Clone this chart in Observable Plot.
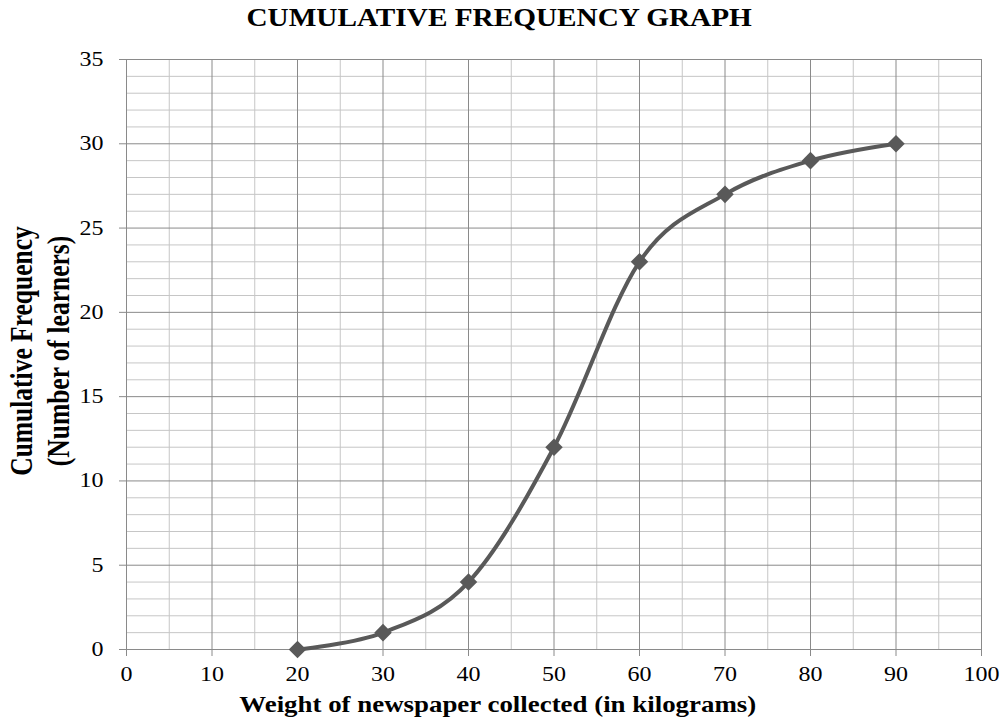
<!DOCTYPE html>
<html><head><meta charset="utf-8">
<script src="https://cdn.jsdelivr.net/npm/d3@7"></script>
<script src="https://cdn.jsdelivr.net/npm/@observablehq/plot@0.6"></script>
<style>
body{margin:0;background:#fff;}
#wrap{position:relative;width:1005px;height:724px;overflow:hidden;font-family:"Liberation Serif","Times New Roman",serif;color:#000;background:#fff}
#title{height:40px;line-height:35px;text-align:center;font-weight:bold;font-size:26px;white-space:nowrap}
#title span{display:inline-block;transform:translateX(-3.5px) scaleX(1.125);}
#xlabel{position:absolute;left:0;width:1005px;top:691px;text-align:center;font-weight:bold;font-size:24px;line-height:normal;white-space:nowrap}
#xlabel span{display:inline-block;transform:translateX(-5px) scaleX(1.12);}
#ylabel{position:absolute;left:40.8px;top:351px;transform:translate(-50%,-50%) rotate(-90deg) scaleY(1.22);font-weight:bold;font-size:25.5px;line-height:30px;text-align:center;white-space:nowrap}
svg{display:block}
svg text{font-family:"Liberation Serif","Times New Roman",serif !important}
</style>
</head><body>
<div id="wrap">
  <div id="title"><span>CUMULATIVE FREQUENCY GRAPH</span></div>
  <div id="chart"></div>
  <div id="xlabel"><span>Weight of newspaper collected (in kilograms)</span></div>
  <div id="ylabel">Cumulative Frequency<br>(Number of learners)</div>
</div>
<script>
const weight = [20, 30, 40, 50, 60, 70, 80, 90];
const cumFreq = [0, 1, 4, 12, 23, 27, 29, 30];
const xTicks = [0, 10, 20, 30, 40, 50, 60, 70, 80, 90, 100];
const xMinor = [5, 15, 25, 35, 45, 55, 65, 75, 85, 95];
const yTicks = [0, 5, 10, 15, 20, 25, 30, 35];
const yMinor = [1,2,3,4,6,7,8,9,11,12,13,14,16,17,18,19,21,22,23,24,26,27,28,29,31,32,33,34];

const data = weight.map((w, i) => ({w, f: cumFreq[i]}));
const serif = "'Liberation Serif', 'Times New Roman', serif";

const chart = Plot.plot({
  width: 1005, height: 684,
  marginTop: 19, marginBottom: 75, marginLeft: 126, marginRight: 24,
  style: {fontFamily: serif, fontSize: "20.5px", background: "#fff", color: "#000"},
  x: {domain: [0, 100]},
  y: {domain: [0, 35]},
  marks: [
    Plot.ruleX(xMinor, {stroke: "#c6c6c6"}),
    Plot.ruleY(yMinor, {stroke: "#c6c6c6"}),
    Plot.ruleX(xTicks, {stroke: "#8a8a8a"}),
    Plot.ruleY(yTicks, {stroke: "#8a8a8a"}),
    Plot.axisX({ticks: xTicks, tickSize: 7, tickPadding: 10, stroke: "#8a8a8a", fill: "#000", label: null, fontSize: 20.5, fontFamily: serif}),
    Plot.axisY({ticks: yTicks, tickSize: 7, tickPadding: 16, stroke: "#8a8a8a", fill: "#000", label: null, fontSize: 20.5, fontFamily: serif}),
    Plot.line(data, {x: "w", y: "f", curve: d3.curveCardinal.tension(0), stroke: "#595959", strokeWidth: 4}),
    Plot.dot(data, {x: "w", y: "f", symbol: "diamond2", r: 7.9, fill: "#595959", stroke: "none"})
  ]
});
document.getElementById("chart").appendChild(chart);

// widen tick labels horizontally (reference text is horizontally stretched)
const k = 1.17;
chart.querySelectorAll("text").forEach(t => {
  t.style.fontFamily = serif;
  const tr = t.getAttribute("transform");
  if (tr) {
    t.setAttribute("transform", tr + ` scale(${k},1)`);
  } else {
    const x = +(t.getAttribute("x") || 0);
    t.setAttribute("transform", `translate(${x},0) scale(${k},1) translate(${-x},0)`);
  }
});
</script>
</body></html>
